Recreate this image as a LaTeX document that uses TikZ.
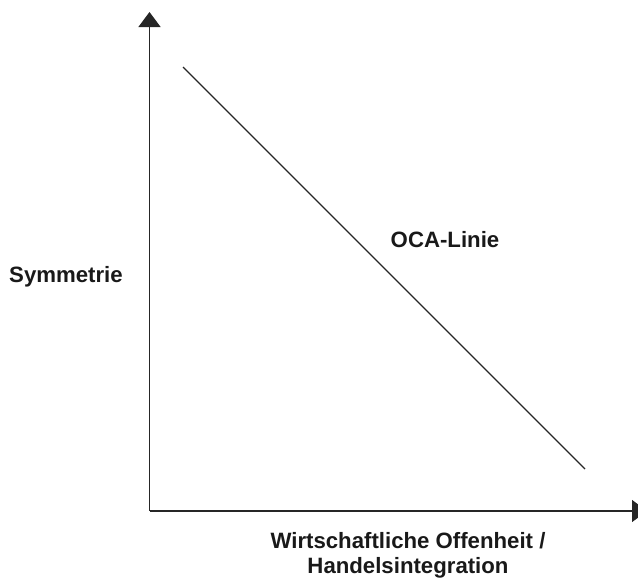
\documentclass[tikz,border=0pt]{standalone}
\usepackage{fontspec}
\setmainfont{Liberation Sans}
\usetikzlibrary{arrows.meta}

\begin{document}
\begin{tikzpicture}[
    x=1pt, y=-1pt,
    axis/.style={line width=1.4pt, draw=black!85, -{Triangle[length=15pt,width=22pt]}},
    ocaline/.style={line width=1.2pt, draw=black!85},
    label/.style={font=\fontsize{22.2}{25}\selectfont\bfseries, text=black!90, align=center, inner sep=0pt}
]
    \useasboundingbox (0,0) rectangle (638,579);
    \coordinate (origin) at (149.5,511);
    \coordinate (ytop) at (149.5,12);
    \coordinate (xend) at (647,511);
    \coordinate (ocastart) at (183,67);
    \coordinate (ocaend) at (585,469);
    \draw[axis] (origin) -- (ytop);
    \draw[axis] (origin) -- (xend);
    \draw[ocaline] (ocastart) -- (ocaend);
    \node[label] (sym) at (66,277) {Symmetrie};
    \node[label] (oca) at (445,240) {OCA-Linie};
    \node[label] (xlab) at (408,555) {Wirtschaftliche Offenheit /\\Handelsintegration};
\end{tikzpicture}
\end{document}
